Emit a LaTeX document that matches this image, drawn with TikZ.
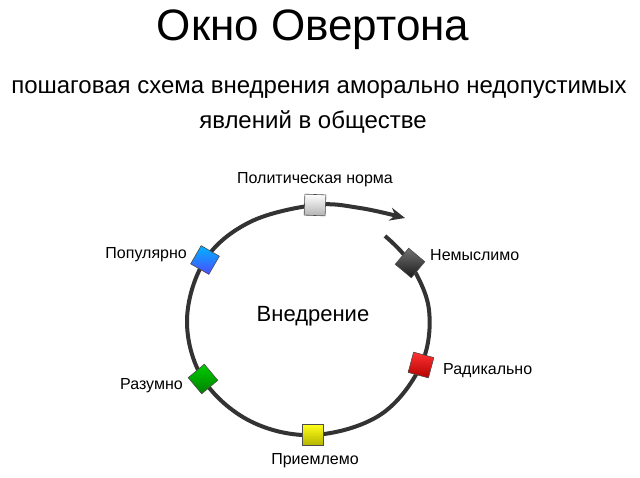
\documentclass[tikz,border=0pt]{standalone}
\usepackage{fontspec}
\setmainfont{Liberation Sans}
\usetikzlibrary{arrows.meta}
\begin{document}
\begin{tikzpicture}[x=1pt,y=-1pt,
  box/.style={draw=black!70,line width=0.6pt,minimum size=21pt,inner sep=0pt},
  lab/.style={font=\fontsize{16}{18}\selectfont,inner sep=0pt}]
\useasboundingbox[fill=white] (0,0) rectangle (640,477);
\node[font=\fontsize{44}{48}\selectfont] (title) at (313,30) {Окно Овертона};
\node[font=\fontsize{24}{28}\selectfont] (sub1) at (319,90) {пошаговая схема внедрения аморально недопустимых};
\node[font=\fontsize{24}{28}\selectfont] (sub2) at (313,122) {явлений в обществе};
\draw[line width=4pt,black!80,-{Stealth[length=15pt,width=13pt]}] plot[smooth,tension=0.6] coordinates {(385,236) (410,263) (429,310) (421,365) (380,415) (313,435) (250,421) (203,379) (187,320) (205,260) (250,222) (315,205) (360,208) (405,218)};
\node[box,rotate=-2,top color=white,bottom color=black!30] (n1) at (315,205) {};
\node[box,rotate=-40,top color=black!55,bottom color=black!90] (n2) at (410,263) {};
\node[box,rotate=-15,top color=red!80,bottom color=red!70!black] (n3) at (421,365) {};
\node[box,rotate=0,top color=yellow!90,bottom color=yellow!70!black] (n4) at (313,435) {};
\node[box,rotate=40,top color=green!80!black,bottom color=green!50!black] (n5) at (203,379) {};
\node[box,rotate=-30,top color=cyan!70!blue,bottom color=blue!70] (n6) at (205,260) {};
\node[lab] (l1) at (315,180) {Политическая норма};
\node[lab,anchor=west] (l2) at (430,255) {Немыслимо};
\node[lab,anchor=west] (l3) at (443,371) {Радикально};
\node[lab] (l4) at (315,461) {Приемлемо};
\node[lab,anchor=east] (l5) at (183,386) {Разумно};
\node[lab,anchor=east] (l6) at (187,255) {Популярно};
\node[font=\fontsize{22}{24}\selectfont] (c) at (313,316) {Внедрение};
\end{tikzpicture}
\end{document}
